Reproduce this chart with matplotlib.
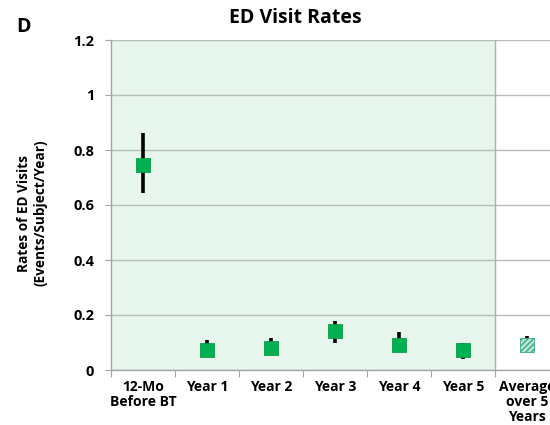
import matplotlib.pyplot as plt
import numpy as np

plt.rcParams['font.family'] = ['Open Sans', 'DejaVu Sans']

categories = ["12-Mo\nBefore BT", "Year 1", "Year 2", "Year 3", "Year 4", "Year 5",
              "Average\nover 5\nYears"]
rates = [0.745, 0.073, 0.080, 0.142, 0.090, 0.072, 0.090]
lower = [0.644, 0.050, 0.058, 0.098, 0.068, 0.040, 0.075]
upper = [0.862, 0.109, 0.118, 0.178, 0.138, 0.098, 0.124]
yticks = [0, 0.2, 0.4, 0.6, 0.8, 1.0, 1.2]
ytick_labels = ["0", "0.2", "0.4", "0.6", "0.8", "1", "1.2"]

green = "#00B050"
grid_col = "#B8BDBA"

fig = plt.figure(figsize=(5.5, 4.25), dpi=100)
ax = fig.add_axes([111 / 550, 55 / 425, 448 / 550, 330 / 425])

x = np.arange(len(categories))
ax.set_xlim(-0.5, len(categories) - 0.5)
ax.set_ylim(0, 1.2)

# shaded follow-up window and divider before the summary column
ax.axvspan(-0.5, 5.5, color="#E6F6EC", zorder=0)
ax.axvline(5.5, color="#A9B1AC", lw=1.0, zorder=1)

ax.set_yticks(yticks)
ax.set_yticklabels(ytick_labels)
ax.yaxis.grid(True, color=grid_col, lw=1.0)
ax.set_axisbelow(True)

err_lo = np.array(rates) - np.array(lower)
err_hi = np.array(upper) - np.array(rates)
ax.errorbar(x, rates, yerr=[err_lo, err_hi], fmt="none", ecolor="black",
            elinewidth=2.6, capsize=0, zorder=3)

ax.scatter(x[:6], rates[:6], marker="s", s=115, color=green,
           edgecolor="#0E9A4A", linewidth=0.6, zorder=4)
ax.scatter(x[6:], rates[6:], marker="s", s=105, facecolor="#BDE5D2",
           edgecolor="#3AA882", hatch="//////", linewidth=0.6, zorder=4)

# category boundary ticks on the x axis
ax.set_xticks(np.arange(-0.5, len(categories), 1.0))
ax.set_xticklabels([])
ax.set_xticks(x, minor=True)
ax.set_xticklabels(categories, minor=True, fontsize=10, fontweight="bold",
                   linespacing=1.1)
ax.tick_params(axis="x", which="minor", length=0, pad=7)
ax.tick_params(axis="x", which="major", length=5, color="#A0A6A2")
ax.tick_params(axis="y", length=4, color="#A0A6A2", labelsize=10.5, pad=8)
for lab in ax.get_yticklabels():
    lab.set_fontweight("bold")

for side in ["top", "right"]:
    ax.spines[side].set_visible(False)
for side in ["left", "bottom"]:
    ax.spines[side].set_color("#A0A6A2")
    ax.spines[side].set_linewidth(1.0)

fig.text(295 / 550, 1 - 18 / 425, "ED Visit Rates", ha="center", va="center",
         fontsize=14, fontweight="bold")
fig.text(23 / 550, 1 - 27 / 425, "D", ha="center", va="center",
         fontsize=14, fontweight="bold")
fig.text(32 / 550, 1 - 213 / 425, "Rates of ED Visits\n(Events/Subject/Year)",
         ha="center", va="center", rotation=90, fontsize=9.8, fontweight="bold",
         linespacing=1.2)

fig.savefig("out.png", dpi=100)
